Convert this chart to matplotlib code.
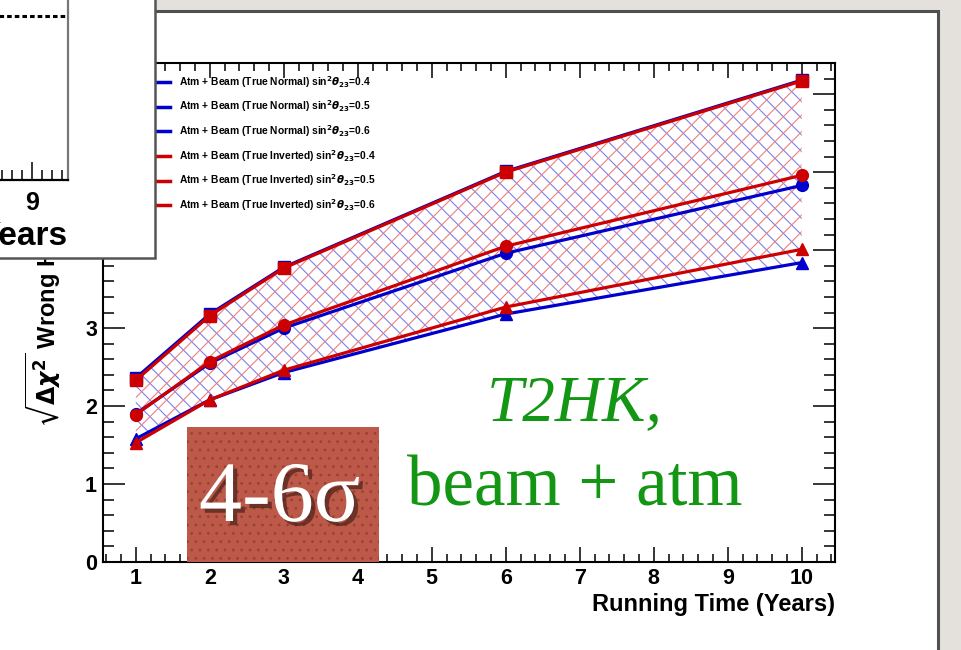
import numpy as np
import matplotlib.pyplot as plt
import matplotlib.patheffects as pe
from matplotlib.patches import Rectangle
from matplotlib.lines import Line2D
from matplotlib.transforms import Bbox, TransformedBbox
from matplotlib.ticker import MultipleLocator, FixedLocator

plt.rcParams['font.family'] = ['Liberation Sans', 'DejaVu Sans']
plt.rcParams['font.weight'] = 'bold'
plt.rcParams['mathtext.fontset'] = 'dejavusans'
plt.rcParams['hatch.linewidth'] = 0.8

W, H = 962, 650

# running time in years
years = [1, 2, 3, 6, 10]

# sqrt(delta chi^2) for the wrong hierarchy
normal_04 = [1.58, 2.08, 2.43, 3.18, 3.84]
normal_05 = [1.90, 2.55, 3.00, 3.96, 4.83]
normal_06 = [2.36, 3.18, 3.78, 5.01, 6.18]
inverted_04 = [1.53, 2.08, 2.46, 3.27, 4.01]
inverted_05 = [1.89, 2.57, 3.04, 4.05, 4.96]
inverted_06 = [2.33, 3.16, 3.77, 5.00, 6.17]

legend_labels = [
    r'Atm + Beam (True Normal) sin$^{2}\theta_{23}$=0.4',
    r'Atm + Beam (True Normal) sin$^{2}\theta_{23}$=0.5',
    r'Atm + Beam (True Normal) sin$^{2}\theta_{23}$=0.6',
    r'Atm + Beam (True Inverted) sin$^{2}\theta_{23}$=0.4',
    r'Atm + Beam (True Inverted) sin$^{2}\theta_{23}$=0.5',
    r'Atm + Beam (True Inverted) sin$^{2}\theta_{23}$=0.6',
]

# piece of the neighbouring plot that overlaps the top-left corner
inset_tick = 9
inset_level = 0.42

blue = '#0000cc'
red = '#cc0000'


def fx(x):
    return x / W


def fy(y):
    return 1 - y / H


fig = plt.figure(figsize=(W / 100, H / 100), dpi=100, facecolor='#e4e1dc')

# white slide panel with dark border
fig.patches.append(Rectangle((-0.02, -0.02), fx(938) + 0.02, fy(11) + 0.02,
                             transform=fig.transFigure, facecolor='white',
                             edgecolor='#505050', lw=2.2, zorder=-2))

ax = fig.add_axes([fx(102.5), fy(562), fx(835) - fx(102.5), fy(63) - fy(562)])

ax.fill_between(years, normal_04, normal_06, facecolor='none', edgecolor='#7f7fee',
                hatch='\\\\', lw=0, zorder=1)
ax.fill_between(years, inverted_04, inverted_06, facecolor='none', edgecolor='#ee8080',
                hatch='//', lw=0, zorder=1)

for vals, mk in [(normal_04, '^'), (normal_05, 'o'), (normal_06, 's')]:
    ax.plot(years, vals, color=blue, lw=2.3, marker=mk, ms=8.5, zorder=3)
for vals, mk in [(inverted_04, '^'), (inverted_05, 'o'), (inverted_06, 's')]:
    ax.plot(years, vals, color=red, lw=2.3, marker=mk, ms=8.5, zorder=4)

ax.set_xlim(0.55, 10.45)
ax.set_ylim(0, 6.4)
ax.xaxis.set_major_locator(MultipleLocator(1))
ax.xaxis.set_minor_locator(MultipleLocator(0.2))
ax.yaxis.set_major_locator(MultipleLocator(1))
ax.yaxis.set_minor_locator(MultipleLocator(0.2))
ax.tick_params(which='both', direction='in', top=True, right=True, width=1.1,
               labelsize=15.5, colors='black')
ax.xaxis.set_tick_params(which='major', length=11, pad=4.5)
ax.xaxis.set_tick_params(which='minor', length=5.5)
ax.yaxis.set_tick_params(which='major', length=16, pad=4)
ax.yaxis.set_tick_params(which='minor', length=8)
for lab in ax.get_xticklabels() + ax.get_yticklabels():
    lab.set_fontweight('bold')
for s in ax.spines.values():
    s.set_linewidth(1.5)

ax.set_xlabel('Running Time (Years)', loc='right', fontsize=17, fontweight='bold', labelpad=3)
ylab = fig.text(fx(44), fy(427), r'$\sqrt{\Delta\chi^{2}}$ Wrong Hierarchy', rotation=90,
                ha='center', va='bottom', fontsize=17, fontweight='bold')
# the upper part of the title is hidden behind the neighbouring plot
ylab.set_clip_box(TransformedBbox(Bbox([[0, 0], [fx(155), fy(258)]]), fig.transFigure))
ylab.set_clip_on(True)

handles = [Line2D([], [], color=c, lw=2.5) for c in [blue] * 3 + [red] * 3]
ax.legend(handles, legend_labels, loc='upper left', bbox_to_anchor=(fx(155), fy(74)),
          bbox_transform=fig.transFigure, frameon=False,
          prop={'weight': 'bold', 'size': 7.4}, handlelength=1.5, handletextpad=0.85,
          labelspacing=0.86, borderpad=0, borderaxespad=0)

# overlapping corner of the previous plot
fig.patches.append(Rectangle((-0.02, fy(258)), fx(155) + 0.02, 1.05 - fy(258),
                             transform=fig.transFigure, facecolor='white',
                             edgecolor='#555555', lw=1.8, zorder=5))
ax_in = fig.add_axes([-0.25, fy(180), fx(68) + 0.25, 0.6], zorder=6)
ax_in.patch.set_visible(False)
px_per_unit = 50
right_end = inset_tick + 36 / px_per_unit
ax_in.set_xlim(right_end - (fx(68) + 0.25) * W / px_per_unit, right_end)
ax_in.set_ylim(0, 1)
ax_in.axhline(inset_level, color='black', lw=2.2, ls=(0, (1.5, 1)))
ax_in.xaxis.set_major_locator(FixedLocator([inset_tick]))
ax_in.xaxis.set_minor_locator(MultipleLocator(0.2))
ax_in.set_yticks([])
ax_in.tick_params(which='both', direction='in', width=1.1, labelsize=18, pad=8)
ax_in.xaxis.set_tick_params(which='major', length=13)
ax_in.xaxis.set_tick_params(which='minor', length=7)
for lab in ax_in.get_xticklabels():
    lab.set_fontweight('bold')
ax_in.spines['top'].set_visible(False)
ax_in.spines['left'].set_visible(False)
ax_in.spines['bottom'].set_linewidth(1.6)
ax_in.spines['right'].set_linewidth(1.6)
ax_in.spines['right'].set_color('#777777')
ax_in.set_xlabel('Years', loc='right', fontsize=24, fontweight='bold', labelpad=4)

# "4-6 sigma" badge
fig.patches.append(Rectangle((fx(187), fy(562)), fx(379) - fx(187), fy(427) - fy(562),
                             transform=fig.transFigure, facecolor='#bc5948',
                             edgecolor='#9a4234', hatch='..', lw=0, zorder=4))
fig.text(fx(199), fy(521), '4-6σ', family='Liberation Serif', fontweight='normal',
         fontsize=62, color='white', ha='left', va='baseline', zorder=4.5,
         path_effects=[pe.withSimplePatchShadow(offset=(3, -3), shadow_rgbFace='#2a120c',
                                                alpha=0.55)])

fig.text(fx(487), fy(420), 'T2HK,', family='Liberation Serif', style='italic',
         fontweight='normal', fontsize=47, color='#139613', ha='left', va='baseline')
fig.text(fx(407), fy(505), 'beam + atm', family='Liberation Serif', fontweight='normal',
         fontsize=51, color='#139613', ha='left', va='baseline')

fig.savefig('out.png', dpi=100, facecolor=fig.get_facecolor())
